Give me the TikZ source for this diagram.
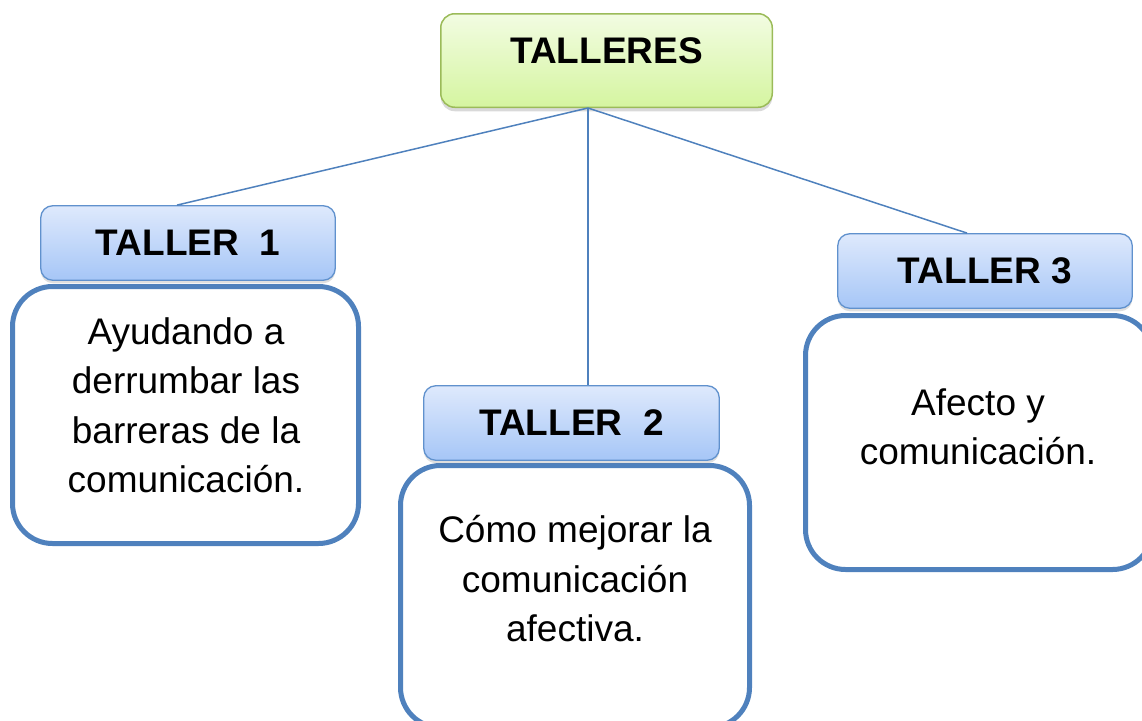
\documentclass[tikz,border=0pt]{standalone}
\usepackage{fontspec}
\setmainfont{Liberation Sans}
\usetikzlibrary{shadows}
\definecolor{bordblue}{RGB}{79,129,189}
\definecolor{hdbord}{RGB}{96,145,205}
\definecolor{hdtop}{RGB}{222,233,252}
\definecolor{hdbot}{RGB}{166,198,247}
\definecolor{grtop}{RGB}{242,252,226}
\definecolor{grbot}{RGB}{213,245,160}
\definecolor{grbord}{RGB}{155,187,89}
\begin{document}
\begin{tikzpicture}[x=1pt,y=-1pt,
  bigbox/.style={draw=bordblue, line width=5pt, rounded corners=40pt, fill=white, inner sep=0pt},
  header/.style={draw=hdbord, line width=1.3pt, rounded corners=12pt, top color=hdtop, bottom color=hdbot,
    inner sep=0pt, font=\fontsize{37}{44}\selectfont\bfseries,
    drop shadow={shadow xshift=0pt, shadow yshift=-3pt, opacity=0.25}},
  topbox/.style={draw=grbord, line width=1.5pt, rounded corners=14pt, top color=grtop, bottom color=grbot,
    inner sep=0pt, font=\fontsize{37}{44}\selectfont\bfseries, text height=26.5pt, text depth=20.5pt,
    drop shadow={shadow xshift=0pt, shadow yshift=-4pt, opacity=0.3}},
  body/.style={inner sep=0pt, align=center, font=\fontsize{37}{49.5}\selectfont},
  link/.style={draw=bordblue, line width=1.5pt}]
\clip (0,0) rectangle (1142,720);
\useasboundingbox (0,0) rectangle (1142,720);

\node[bigbox, minimum width=346pt, minimum height=257pt] (b1) at (185.5,415) {};
\node[bigbox, minimum width=349pt, minimum height=262pt] (b2) at (575,596.5) {};
\node[bigbox, minimum width=347pt, minimum height=254pt] (b3) at (979,442.5) {};

\node[header, minimum width=294.5pt, minimum height=74.5pt] (h1) at (188,243) {TALLER\ \ 1};
\node[header, minimum width=295.5pt, minimum height=74.5pt] (h2) at (571.5,423) {TALLER\ \ 2};
\node[header, minimum width=294.5pt, minimum height=74.5pt] (h3) at (985,271) {TALLER 3};

\node[topbox, minimum width=331.5pt, minimum height=93.5pt] (top) at (606.5,60.5) {TALLERES};

\node[body] (t1) at (186,405.3) {Ayudando a\\derrumbar las\\barreras de la\\comunicación.};
\node[body] (t2) at (575,578.8) {Cómo mejorar la\\comunicación\\afectiva.};
\node[body] (t3) at (978,426.8) {Afecto y\\comunicación.};

\coordinate (hub) at ([xshift=-18.5pt]top.south);
\draw[link] (hub) -- ([xshift=-11pt]h1.north);
\draw[link] (hub) -- ([xshift=16.5pt]h2.north);
\draw[link] (hub) -- ([xshift=-18pt]h3.north);
\end{tikzpicture}
\end{document}
